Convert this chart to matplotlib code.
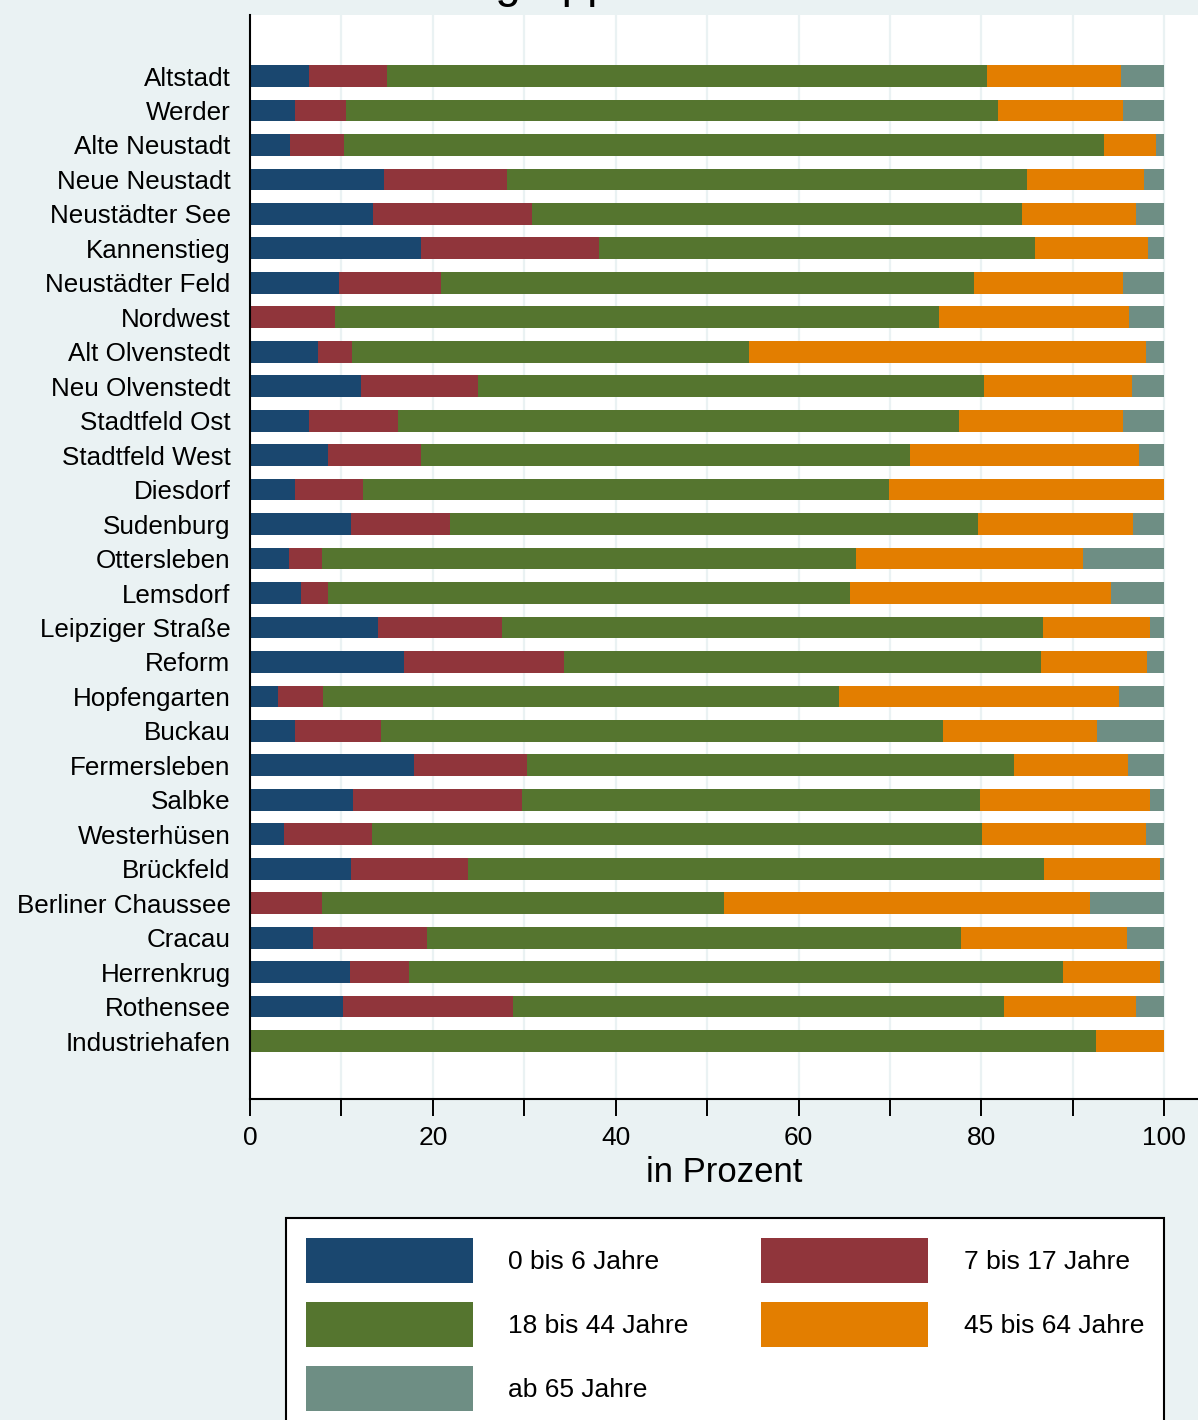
import numpy as np
import matplotlib
matplotlib.use("Agg")
import matplotlib.pyplot as plt
from matplotlib.ticker import MultipleLocator

plt.rcParams["font.family"] = ["Liberation Sans", "DejaVu Sans"]

# Stadtteile, top to bottom
districts = ["Altstadt", "Werder", "Alte Neustadt", "Neue Neustadt", "Neustädter See",
             "Kannenstieg", "Neustädter Feld", "Nordwest", "Alt Olvenstedt", "Neu Olvenstedt",
             "Stadtfeld Ost", "Stadtfeld West", "Diesdorf", "Sudenburg", "Ottersleben",
             "Lemsdorf", "Leipziger Straße", "Reform", "Hopfengarten", "Buckau",
             "Fermersleben", "Salbke", "Westerhüsen", "Brückfeld", "Berliner Chaussee",
             "Cracau", "Herrenkrug", "Rothensee", "Industriehafen"]

# shares in percent per age group
age_0_6 = [6.5, 4.9, 4.4, 14.7, 13.5, 18.7, 9.7, 0.0, 7.4, 12.1,
           6.4, 8.5, 4.9, 11.0, 4.3, 5.6, 14.0, 16.9, 3.1, 4.9,
           17.9, 11.3, 3.7, 11.1, 0.0, 6.9, 10.9, 10.2, 0.0]
age_7_17 = [8.5, 5.6, 5.9, 13.4, 17.3, 19.5, 11.2, 9.3, 3.8, 12.8,
            9.8, 10.2, 7.5, 10.9, 3.6, 2.9, 13.6, 17.4, 4.9, 9.4,
            12.4, 18.5, 9.6, 12.7, 7.9, 12.5, 6.5, 18.6, 0.0]
age_18_44 = [65.6, 71.3, 83.1, 56.9, 53.6, 47.7, 58.3, 66.1, 43.4, 55.4,
             61.4, 53.5, 57.5, 57.7, 58.4, 57.1, 59.1, 52.2, 56.4, 61.5,
             53.3, 50.0, 66.8, 63.0, 44.0, 58.4, 71.5, 53.7, 92.5]
age_45_64 = [14.7, 13.7, 5.7, 12.8, 12.5, 12.3, 16.3, 20.8, 43.4, 16.2,
             17.9, 25.0, 30.1, 17.0, 24.8, 28.6, 11.7, 11.6, 30.7, 16.9,
             12.4, 18.6, 17.9, 12.7, 40.0, 18.1, 10.6, 14.4, 7.5]
age_65 = [4.7, 4.5, 0.9, 2.2, 3.1, 1.8, 4.5, 3.8, 2.0, 3.5,
          4.5, 2.8, 0.0, 3.4, 8.9, 5.8, 1.6, 1.9, 4.9, 7.3,
          4.0, 1.6, 2.0, 0.5, 8.1, 4.1, 0.5, 3.1, 0.0]

groups = ["0 bis 6 Jahre", "7 bis 17 Jahre", "18 bis 44 Jahre", "45 bis 64 Jahre", "ab 65 Jahre"]
colors = ["#1a476f", "#90353b", "#55752f", "#e37e00", "#6e8e84"]
bg = "#eaf2f3"

W, H = 1198, 1420
fig = plt.figure(figsize=(W / 100, H / 100), dpi=100, facecolor=bg)
ax = fig.add_axes([250 / W, 1 - 1099 / H, (W - 250) / W, (1099 - 15) / H])
ax.set_facecolor("white")

y = np.arange(len(districts))
left = np.zeros(len(districts))
handles = []
for vals, c, lab in zip([age_0_6, age_7_17, age_18_44, age_45_64, age_65], colors, groups):
    vals = np.array(vals)
    b = ax.barh(y, vals, left=left, height=0.63, color=c, label=lab, linewidth=0)
    handles.append(b)
    left += vals

ax.set_ylim(len(districts) - 1 + 1.68, -1.77)
ax.set_xlim(0, 103.7)
ax.set_yticks(y)
ax.set_yticklabels(districts, fontsize=18.7)
ax.tick_params(axis="y", length=0, pad=14)

ax.xaxis.set_major_locator(MultipleLocator(20))
ax.xaxis.set_minor_locator(MultipleLocator(10))
ax.tick_params(axis="x", which="both", length=12.5, width=1.4, labelsize=19, pad=7)
ax.set_xlabel("in Prozent", fontsize=25, labelpad=4)

# light vertical grid
ax.set_axisbelow(True)
for gx in np.arange(10, 101, 10):
    ax.axvline(gx, color=bg, lw=1.6, zorder=0)

for s in ["top", "right"]:
    ax.spines[s].set_visible(False)
for s in ["left", "bottom"]:
    ax.spines[s].set_linewidth(1.5)

# legend, row-wise order
order = [0, 2, 4, 1, 3]
leg = fig.legend([handles[i] for i in order], [groups[i] for i in order],
                 ncol=2, loc="upper left", bbox_to_anchor=(286 / W, 1 - 1218 / H),
                 borderaxespad=0, fontsize=19, handlelength=6.33, handleheight=2.28,
                 handletextpad=1.33, labelspacing=0.7, columnspacing=2.77,
                 borderpad=0.75, fancybox=False, framealpha=1, edgecolor="black",
                 facecolor="white")
leg.get_frame().set_linewidth(1.5)

# title, mostly above the cropped top edge
title_prefix = "Anteil der Alters"
renderer = fig.canvas.get_renderer()
tmp = fig.text(0, 0, title_prefix, fontsize=33)
pw = tmp.get_window_extent(renderer).width
tmp.remove()
fig.text((495 - pw) / W, 1 + 3 / H, "Anteil der Altersgruppen", fontsize=33,
         ha="left", va="baseline")

fig.savefig("out.png", dpi=100, facecolor=bg)
